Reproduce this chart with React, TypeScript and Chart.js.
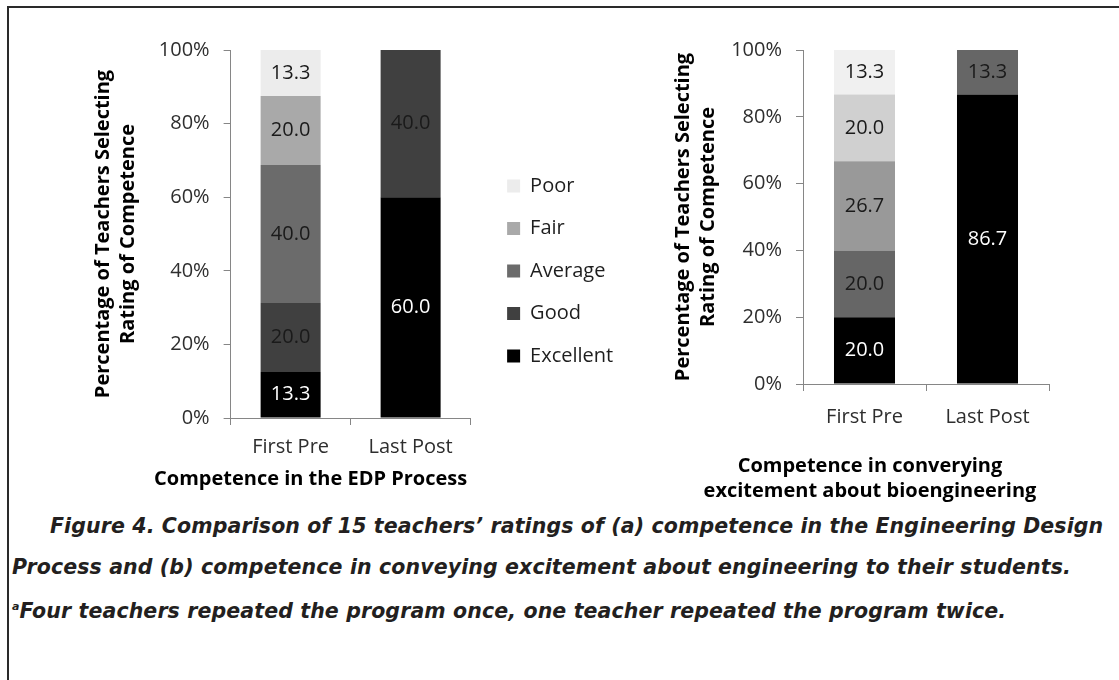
import React, { useEffect, useRef } from "react";
import { Chart, registerables } from "chart.js";

Chart.register(...registerables);

// ---------- data ----------
const categories = ["First Pre", "Last Post"];
const ratings = ["Excellent", "Good", "Average", "Fair", "Poor"];

// (a) Competence in the EDP Process (values printed on the bars)
const edpExcellent = [13.3, 60.0];
const edpGood = [20.0, 40.0];
const edpAverage = [40.0, 0];
const edpFair = [20.0, 0];
const edpPoor = [13.3, 0];

// (b) Competence in conveying excitement about bioengineering
const excExcellent = [20.0, 86.7];
const excGood = [20.0, 13.3];
const excAverage = [26.7, 0];
const excFair = [20.0, 0];
const excPoor = [13.3, 0];

const yTickValues = [0, 20, 40, 60, 80, 100];

const edpTitle = "Competence in the EDP Process";
const excTitle = ["Competence in converying", "excitement about bioengineering"];
const yTitle = ["Percentage of Teachers Selecting", "Rating of Competence"];

const captionLine1 =
  "Figure 4. Comparison of 15 teachers\u2019 ratings of (a) competence in the Engineering Design";
const captionLine2 =
  "Process and (b) competence in conveying excitement about engineering to their students.";
const captionLine3 =
  "Four teachers repeated the program once, one teacher repeated the program twice.";

// ---------- styles ----------
const edpColors = ["#000000", "#404040", "#6b6b6b", "#a9a9a9", "#ececec"];
const excColors = ["#000000", "#666666", "#999999", "#d0d0d0", "#f0f0f0"];
const valueColors = ["#ffffff", "#1a1a1a", "#1a1a1a", "#1a1a1a", "#1a1a1a"];

const FONT = "'Open Sans', sans-serif";
const TEXT_SIZE = 20;
const AXIS_COLOR = "#868686";
const TICK_COLOR = "#2e2e2e";
const TITLE_FONT = { family: FONT, size: 20, weight: "bold", lineHeight: 1.25 };
const LEG_PAD = 22.5;
const LEG_BOX = 13;

function toPercent(series: number[][]) {
  return series.map((s) =>
    s.map((v, j) => {
      const total = series.reduce((a, t) => a + t[j], 0);
      return total ? (v / total) * 100 : 0;
    })
  );
}

function measureText(txt: string, font: string) {
  const c = document.createElement("canvas").getContext("2d") as CanvasRenderingContext2D;
  c.font = font;
  return c.measureText(txt).width;
}

const valueLabelPlugin = {
  id: "valueLabels",
  afterDatasetsDraw(chart: any) {
    const ctx = chart.ctx;
    chart.data.datasets.forEach((ds: any, i: number) => {
      const meta = chart.getDatasetMeta(i);
      meta.data.forEach((el: any, j: number) => {
        const v = ds.rawValues[j];
        if (!v) return;
        const { x, y, base } = el.getProps(["x", "y", "base"], true);
        ctx.save();
        ctx.font = `${TEXT_SIZE}px ${FONT}`;
        ctx.fillStyle = ds.valueColor;
        ctx.textAlign = "center";
        ctx.textBaseline = "middle";
        ctx.fillText(v.toFixed(1), x, (y + base) / 2);
        ctx.restore();
      });
    });
  },
};

type Geo = { yWidth: number; yTitlePadTop: number; xHeight: number; gapWidth: number };

function buildConfig(o: {
  series: number[][];
  colors: string[];
  catPct: number;
  title: string | string[];
  titlePad: { top: number; bottom: number };
  xTickPad: number;
  geo: Geo;
  padding: any;
  legend: boolean;
}) {
  const pct = toPercent(o.series);
  const geo = o.geo;
  const datasets = ratings.map((name, i) => ({
    label: name,
    data: pct[i],
    rawValues: o.series[i],
    valueColor: valueColors[i],
    backgroundColor: o.colors[i],
    borderWidth: 0,
    barPercentage: 1,
    categoryPercentage: o.catPct,
  }));
  const scales: any = {
    x: {
      stacked: true,
      grid: {
        display: true,
        drawOnChartArea: false,
        drawTicks: true,
        tickLength: 7,
        color: AXIS_COLOR,
        offset: true,
      },
      border: { display: true, color: AXIS_COLOR, width: 1 },
      ticks: { font: { family: FONT, size: TEXT_SIZE }, color: TICK_COLOR, padding: o.xTickPad },
      afterFit: (s: any) => {
        s.height = geo.xHeight;
      },
    },
    y: {
      stacked: true,
      min: 0,
      max: 100,
      grid: {
        display: true,
        drawOnChartArea: false,
        drawTicks: true,
        tickLength: 7,
        color: AXIS_COLOR,
      },
      border: { display: true, color: AXIS_COLOR, width: 1 },
      afterBuildTicks: (s: any) => {
        s.ticks = yTickValues.map((v) => ({ value: v }));
      },
      ticks: {
        font: { family: FONT, size: TEXT_SIZE },
        color: TICK_COLOR,
        padding: 14,
        callback: (v: any) => v + "%",
      },
      title: {
        display: true,
        text: yTitle,
        color: "#000000",
        font: TITLE_FONT,
        padding: { top: geo.yTitlePadTop, bottom: 0 },
      },
      afterFit: (s: any) => {
        s.width = geo.yWidth;
      },
    },
    // invisible spacer between the plot and whatever sits on its right
    gap: {
      type: "linear",
      position: "right",
      display: false,
      afterFit: (s: any) => {
        s.width = geo.gapWidth;
      },
    },
  };
  return {
    type: "bar" as const,
    data: { labels: categories, datasets },
    options: {
      responsive: false,
      animation: false,
      devicePixelRatio: 1,
      layout: { padding: o.padding },
      scales,
      plugins: {
        legend: o.legend
          ? {
              display: true,
              position: "right",
              reverse: true,
              labels: {
                boxWidth: LEG_BOX,
                boxHeight: LEG_BOX,
                padding: LEG_PAD,
                color: "#1e1e1e",
                font: { family: FONT, size: TEXT_SIZE },
              },
            }
          : { display: false },
        title: {
          display: true,
          position: "bottom",
          align: "center",
          text: o.title,
          color: "#000000",
          font: TITLE_FONT,
          padding: o.titlePad,
        },
        tooltip: { enabled: false },
      },
    },
    plugins: [valueLabelPlugin],
  };
}

// page-coordinate targets for the left chart
const LEFT_AXIS_X = 231;
const LEFT_AXIS_END = 471;
const LEGEND_LEFT = 485;
const LEFT_TITLE_CENTER = 311;
const LEFT_YTITLE_X = 104;
const LEFT_PAD_RIGHT = 20;

export default function App() {
  const leftRef = useRef<HTMLCanvasElement>(null);
  const rightRef = useRef<HTMLCanvasElement>(null);

  useEffect(() => {
    document.body.style.margin = "0";

    const leftCanvas = leftRef.current as HTMLCanvasElement;
    const leftGeo: Geo = { yWidth: 240, yTitlePadTop: 100, xHeight: 40, gapWidth: LEGEND_LEFT - LEFT_AXIS_END };
    const leftPadding = { left: 0, top: 50, right: LEFT_PAD_RIGHT, bottom: 0 };

    const applyLeft = (legendW: number) => {
      const legendRight = LEGEND_LEFT + legendW;
      const L = 2 * LEFT_TITLE_CENTER - legendRight;
      const W = Math.ceil(legendRight - L + LEFT_PAD_RIGHT);
      leftGeo.yWidth = LEFT_AXIS_X - L;
      leftGeo.yTitlePadTop = LEFT_YTITLE_X - 12.5 - L;
      leftPadding.right = W - (legendRight - L);
      leftCanvas.style.left = L + "px";
      return W;
    };

    const legendTextW = Math.max(...ratings.map((r) => measureText(r, `${TEXT_SIZE}px ${FONT}`)));
    const guessW = applyLeft(LEG_PAD + LEG_BOX + TEXT_SIZE / 2 + legendTextW + 10);
    leftCanvas.width = guessW;
    leftCanvas.height = 492;

    const left = new Chart(
      leftCanvas,
      buildConfig({
        series: [edpExcellent, edpGood, edpAverage, edpFair, edpPoor],
        colors: edpColors,
        catPct: 0.5,
        title: edpTitle,
        titlePad: { top: 8.5, bottom: 0.5 },
        xTickPad: 10,
        geo: leftGeo,
        padding: leftPadding,
        legend: true,
      }) as any
    );
    // correct the geometry with the legend width the library actually measured
    const actualLegendW = (left as any).legend ? (left as any).legend.width : 0;
    if (actualLegendW) {
      const W = applyLeft(actualLegendW);
      (left.options as any).layout.padding = { ...leftPadding };
      (left.options as any).scales.y.title.padding = { top: leftGeo.yTitlePadTop, bottom: 0 };
      left.resize(W, 492);
      left.update("none");
    }

    const rightGeo: Geo = { yWidth: 143, yTitlePadTop: 11, xHeight: 50, gapWidth: 31 };
    const right = new Chart(
      rightRef.current as HTMLCanvasElement,
      buildConfig({
        series: [excExcellent, excGood, excAverage, excFair, excPoor],
        colors: excColors,
        catPct: 0.496,
        title: excTitle,
        titlePad: { top: 19.5, bottom: 0.5 },
        xTickPad: 14,
        geo: rightGeo,
        padding: { left: 0, top: 50, right: 39, bottom: 0 },
        legend: false,
      }) as any
    );
    return () => {
      left.destroy();
      right.destroy();
    };
  }, []);

  const captionStyle: React.CSSProperties = {
    position: "absolute",
    fontFamily: "'DejaVu Sans', sans-serif",
    fontWeight: "bold",
    fontStyle: "italic",
    fontSize: 20.5,
    letterSpacing: "0.12px",
    lineHeight: "24px",
    color: "#231f20",
    whiteSpace: "nowrap",
    margin: 0,
  };

  return (
    <div style={{ position: "relative", width: 1119, height: 680, overflow: "hidden", background: "#ffffff" }}>
      <div
        style={{
          position: "absolute",
          left: 7,
          top: 6,
          width: 1200,
          height: 800,
          borderTop: "2px solid #2a2a2a",
          borderLeft: "2px solid #2a2a2a",
        }}
      />
      <canvas ref={leftRef} width={660} height={492} style={{ position: "absolute", left: 0, top: 0 }} />
      <canvas ref={rightRef} width={459} height={504} style={{ position: "absolute", left: 660, top: 0 }} />
      <p style={{ ...captionStyle, left: 50, top: 514 }}>{captionLine1}</p>
      <p style={{ ...captionStyle, left: 12, top: 555 }}>{captionLine2}</p>
      <p style={{ ...captionStyle, left: 12, top: 595 }}>
        <sup style={{ fontSize: 11 }}>a</sup>
        {captionLine3}
      </p>
    </div>
  );
}
